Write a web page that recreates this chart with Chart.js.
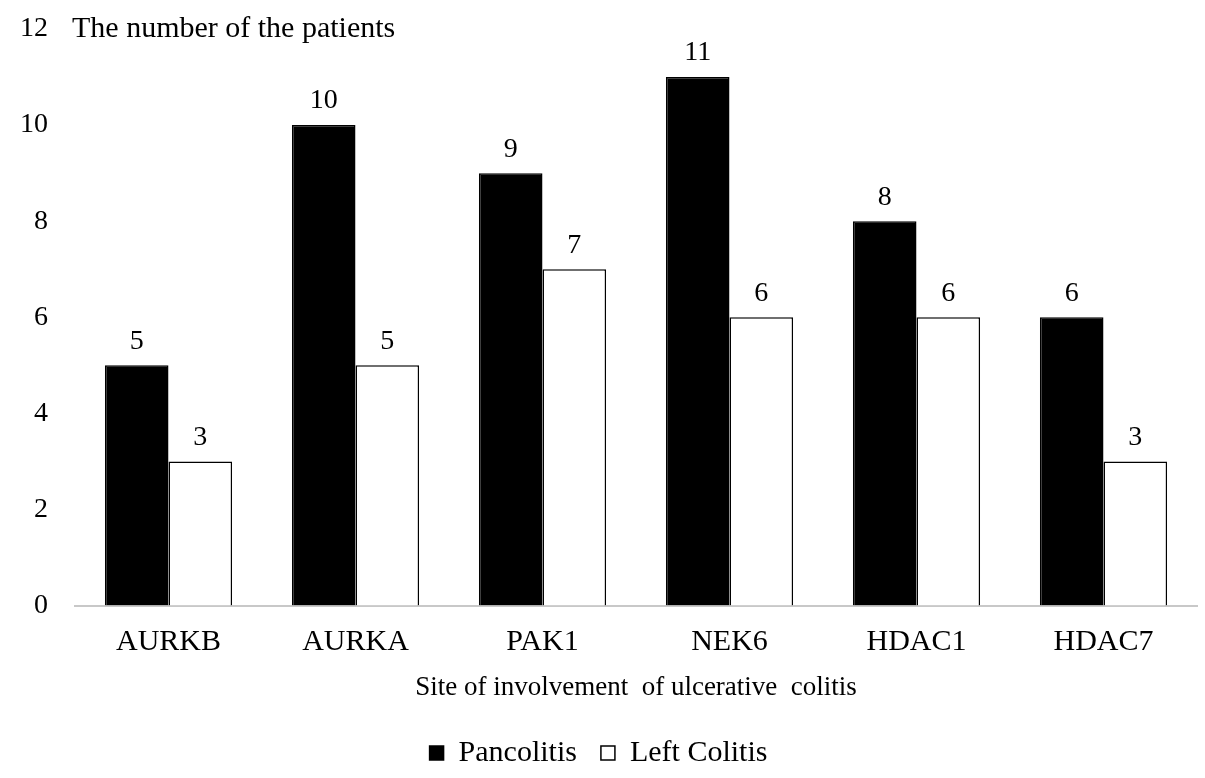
<!DOCTYPE html>
<html>
<head>
<meta charset="utf-8">
<script src="https://cdn.jsdelivr.net/npm/chart.js@4.4.1/dist/chart.umd.min.js"></script>
<style>
  html, body { margin: 0; padding: 0; background: #fff; }
  #wrap { width: 1205px; height: 778px; }
</style>
</head>
<body>
<div id="wrap"><canvas id="chart" width="1205" height="778"></canvas></div>
<script>
// données du graphique
const genes = ['AURKB', 'AURKA', 'PAK1', 'NEK6', 'HDAC1', 'HDAC7'];
const pancolitis = [5, 10, 9, 11, 8, 6];
const leftColitis = [3, 5, 7, 6, 6, 3];
const yTicks = [0, 2, 4, 6, 8, 10, 12];

const serif = "'Liberation Serif', 'Times New Roman', serif";

// étiquettes au-dessus des barres + titre de l'axe Y
const valueLabels = {
  id: 'valueLabels',
  afterDatasetsDraw(chart) {
    const ctx = chart.ctx;
    ctx.save();
    ctx.fillStyle = '#000';
    ctx.font = '28px ' + serif;
    ctx.textAlign = 'center';
    ctx.textBaseline = 'middle';
    chart.data.datasets.forEach((ds, i) => {
      chart.getDatasetMeta(i).data.forEach((bar, j) => {
        ctx.fillText(ds.data[j], bar.x, bar.y - 24);
      });
    });
    // titre de l'axe Y, à côté du 12
    const y = chart.scales.y;
    ctx.font = '30px ' + serif;
    ctx.textAlign = 'left';
    ctx.fillText('The number of the patients', 72, y.getPixelForValue(12));
    ctx.restore();
  }
};

new Chart(document.getElementById('chart'), {
  type: 'bar',
  data: {
    labels: genes,
    datasets: [
      {
        label: 'Pancolitis',
        data: pancolitis,
        backgroundColor: '#000',
        borderColor: '#000',
        borderWidth: 1.5
      },
      {
        label: 'Left Colitis',
        data: leftColitis,
        backgroundColor: '#fff',
        borderColor: '#000',
        borderWidth: 1.5
      }
    ]
  },
  options: {
    responsive: false,
    animation: false,
    devicePixelRatio: 1,
    layout: { padding: { top: 29, right: 8, left: 0, bottom: 0 } },
    datasets: {
      bar: { categoryPercentage: 0.68, barPercentage: 1.0 }
    },
    scales: {
      x: {
        grid: { display: false },
        border: { display: true, color: '#c8c8c8', width: 2 },
        ticks: { color: '#000', font: { family: serif, size: 30 }, padding: 11 },
        title: {
          display: true,
          text: 'Site of involvement  of ulcerative  colitis',
          color: '#000',
          font: { family: serif, size: 27 },
          padding: { top: 0, bottom: 10 }
        }
      },
      y: {
        min: 0,
        max: 12,
        afterBuildTicks(scale) {
          scale.ticks = yTicks.map(v => ({ value: v }));
        },
        afterFit(scale) {
          scale.width = 75;
          scale.paddingTop = 0; // pas de marge en plus au-dessus du 12
        },
        grid: { display: false },
        border: { display: false },
        ticks: { color: '#000', font: { family: serif, size: 28 }, padding: 19 }
      }
    },
    plugins: {
      tooltip: { enabled: false },
      legend: {
        position: 'bottom',
        labels: {
          color: '#000',
          font: { family: serif, size: 30, lineHeight: 1 },
          boxWidth: 14,
          boxHeight: 14,
          padding: 24
        }
      }
    }
  },
  plugins: [valueLabels]
});
</script>
</body>
</html>
